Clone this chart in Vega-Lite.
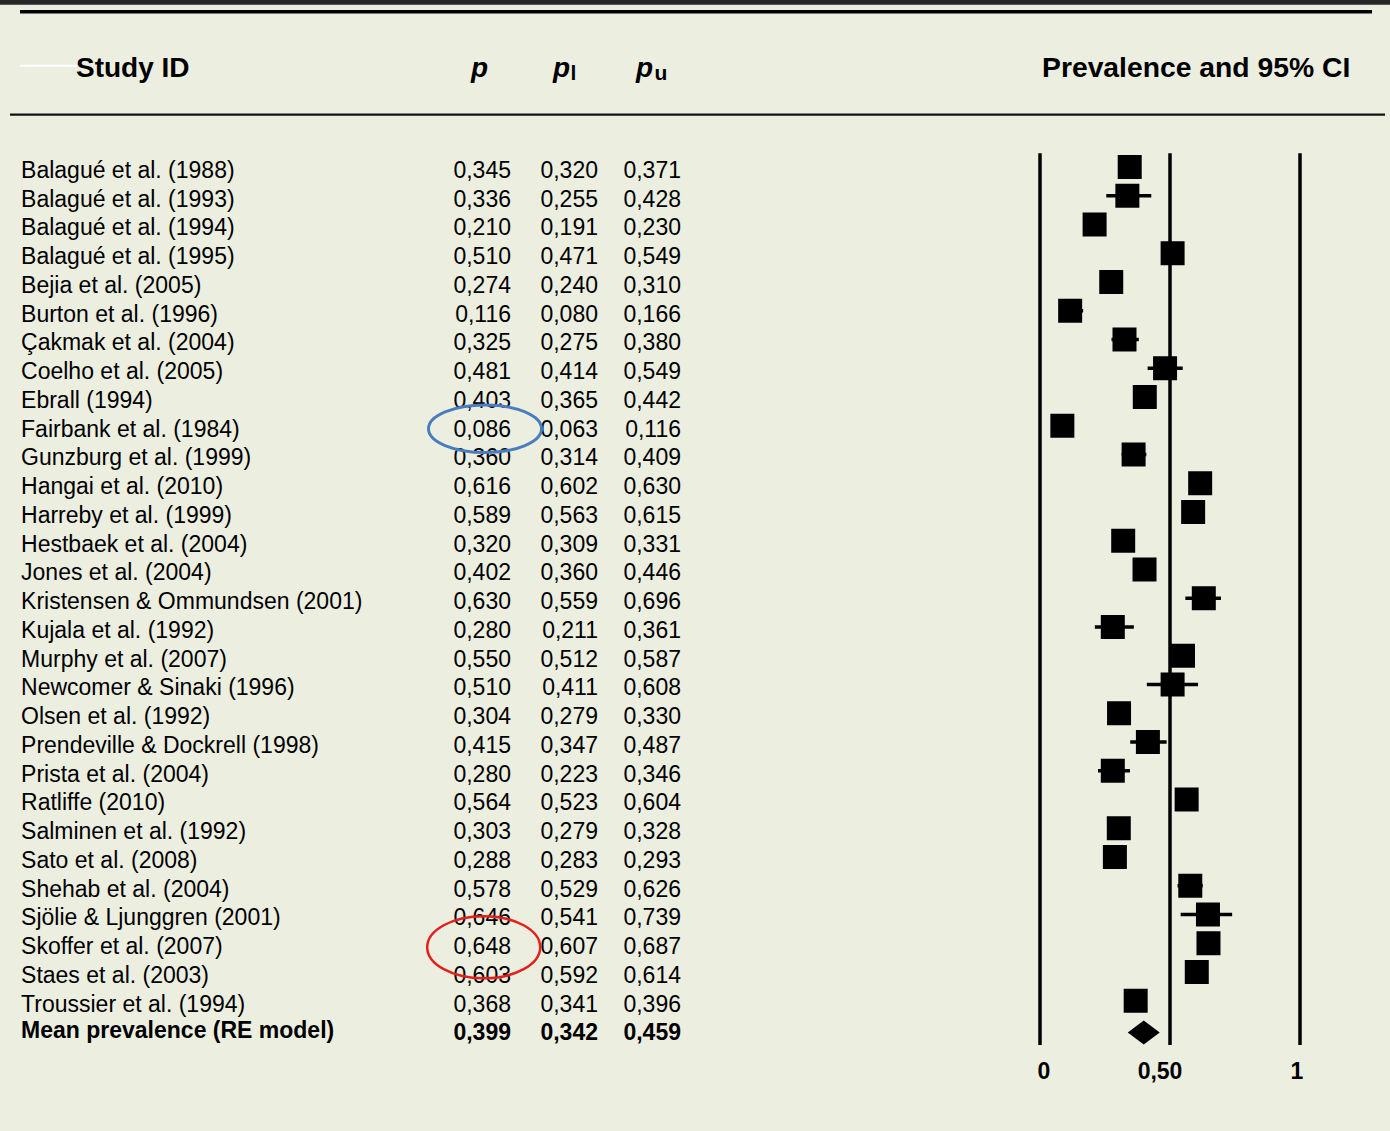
{
  "$schema": "https://vega.github.io/schema/vega-lite/v6.json",
  "width": 1390,
  "height": 1131,
  "padding": 0,
  "autosize": {"type": "fit", "contains": "padding"},
  "background": "#ECEFE0",
  "config": {
    "view": {"stroke": null},
    "font": "Liberation Sans",
    "locale": {"number": {"decimal": ",", "thousands": ".", "grouping": [3], "currency": ["", " €"]}}
  },
  "datasets": {
    "studies": [
      {"study": "Balagué et al. (1988)", "kind": "study", "p": 0.345, "pl": 0.320, "pu": 0.371},
      {"study": "Balagué et al. (1993)", "kind": "study", "p": 0.336, "pl": 0.255, "pu": 0.428},
      {"study": "Balagué et al. (1994)", "kind": "study", "p": 0.210, "pl": 0.191, "pu": 0.230},
      {"study": "Balagué et al. (1995)", "kind": "study", "p": 0.510, "pl": 0.471, "pu": 0.549},
      {"study": "Bejia et al. (2005)", "kind": "study", "p": 0.274, "pl": 0.240, "pu": 0.310},
      {"study": "Burton et al. (1996)", "kind": "study", "p": 0.116, "pl": 0.080, "pu": 0.166},
      {"study": "Çakmak et al. (2004)", "kind": "study", "p": 0.325, "pl": 0.275, "pu": 0.380},
      {"study": "Coelho et al. (2005)", "kind": "study", "p": 0.481, "pl": 0.414, "pu": 0.549},
      {"study": "Ebrall (1994)", "kind": "study", "p": 0.403, "pl": 0.365, "pu": 0.442},
      {"study": "Fairbank et al. (1984)", "kind": "study", "p": 0.086, "pl": 0.063, "pu": 0.116},
      {"study": "Gunzburg et al. (1999)", "kind": "study", "p": 0.360, "pl": 0.314, "pu": 0.409},
      {"study": "Hangai et al. (2010)", "kind": "study", "p": 0.616, "pl": 0.602, "pu": 0.630},
      {"study": "Harreby et al. (1999)", "kind": "study", "p": 0.589, "pl": 0.563, "pu": 0.615},
      {"study": "Hestbaek et al. (2004)", "kind": "study", "p": 0.320, "pl": 0.309, "pu": 0.331},
      {"study": "Jones et al. (2004)", "kind": "study", "p": 0.402, "pl": 0.360, "pu": 0.446},
      {"study": "Kristensen & Ommundsen (2001)", "kind": "study", "p": 0.630, "pl": 0.559, "pu": 0.696},
      {"study": "Kujala et al. (1992)", "kind": "study", "p": 0.280, "pl": 0.211, "pu": 0.361},
      {"study": "Murphy et al. (2007)", "kind": "study", "p": 0.550, "pl": 0.512, "pu": 0.587},
      {"study": "Newcomer & Sinaki (1996)", "kind": "study", "p": 0.510, "pl": 0.411, "pu": 0.608},
      {"study": "Olsen et al. (1992)", "kind": "study", "p": 0.304, "pl": 0.279, "pu": 0.330},
      {"study": "Prendeville & Dockrell (1998)", "kind": "study", "p": 0.415, "pl": 0.347, "pu": 0.487},
      {"study": "Prista et al. (2004)", "kind": "study", "p": 0.280, "pl": 0.223, "pu": 0.346},
      {"study": "Ratliffe (2010)", "kind": "study", "p": 0.564, "pl": 0.523, "pu": 0.604},
      {"study": "Salminen et al. (1992)", "kind": "study", "p": 0.303, "pl": 0.279, "pu": 0.328},
      {"study": "Sato et al. (2008)", "kind": "study", "p": 0.288, "pl": 0.283, "pu": 0.293},
      {"study": "Shehab et al. (2004)", "kind": "study", "p": 0.578, "pl": 0.529, "pu": 0.626},
      {"study": "Sjölie & Ljunggren (2001)", "kind": "study", "p": 0.646, "pl": 0.541, "pu": 0.739},
      {"study": "Skoffer et al. (2007)", "kind": "study", "p": 0.648, "pl": 0.607, "pu": 0.687},
      {"study": "Staes et al. (2003)", "kind": "study", "p": 0.603, "pl": 0.592, "pu": 0.614},
      {"study": "Troussier et al. (1994)", "kind": "study", "p": 0.368, "pl": 0.341, "pu": 0.396},
      {"study": "Mean prevalence (RE model)", "kind": "pooled", "p": 0.399, "pl": 0.342, "pu": 0.459}
    ],
    "ticks": [
      {"tick": 0, "label": "0"},
      {"tick": 0.5, "label": "0,50"},
      {"tick": 1, "label": "1"}
    ],
    "blank": [{}]
  },
  "layer": [
    {
      "data": {"name": "blank"},
      "mark": {"type": "rect", "color": "#262626"},
      "encoding": {
        "x": {"datum": -4, "type": "quantitative", "scale": {"domain": [-4, 1.34615], "nice": false, "zero": false}, "axis": null},
        "x2": {"datum": 1.34615},
        "y": {"datum": -5.191, "type": "quantitative", "scale": {"domain": [-5.191, 34.148], "nice": false, "zero": false, "reverse": true}, "axis": null},
        "y2": {"datum": -5.028}
      }
    },
    {
      "data": {"name": "blank"},
      "mark": {"type": "rule", "color": "#000000", "strokeWidth": 3.5},
      "encoding": {
        "x": {"datum": -3.923, "type": "quantitative"},
        "x2": {"datum": 1.277},
        "y": {"datum": -4.784, "type": "quantitative"}
      }
    },
    {
      "data": {"name": "blank"},
      "mark": {"type": "rule", "color": "#111111", "strokeWidth": 2.2},
      "encoding": {
        "x": {"datum": -3.9615, "type": "quantitative"},
        "x2": {"datum": 1.327},
        "y": {"datum": -1.202, "type": "quantitative"}
      }
    },
    {
      "data": {"name": "blank"},
      "mark": {"type": "rule", "color": "#FFFFFF", "strokeWidth": 2},
      "encoding": {
        "x": {"datum": -3.923, "type": "quantitative"},
        "x2": {"datum": -3.7038},
        "y": {"datum": -2.906, "type": "quantitative"}
      }
    },
    {
      "data": {"name": "blank"},
      "mark": {"type": "text", "align": "left", "baseline": "alphabetic", "fontSize": 28, "fontWeight": "bold", "color": "#000000"},
      "encoding": {
        "x": {"datum": -3.7077, "type": "quantitative"},
        "y": {"datum": -2.513, "type": "quantitative"},
        "text": {"value": "Study ID"}
      }
    },
    {
      "data": {"name": "blank"},
      "mark": {"type": "text", "align": "left", "baseline": "alphabetic", "fontSize": 28, "fontWeight": "bold", "fontStyle": "italic", "color": "#000000"},
      "encoding": {
        "x": {"datum": -2.1885, "type": "quantitative"},
        "y": {"datum": -2.513, "type": "quantitative"},
        "text": {"value": "p"}
      }
    },
    {
      "data": {"name": "blank"},
      "mark": {"type": "text", "align": "left", "baseline": "alphabetic", "fontSize": 28, "fontWeight": "bold", "fontStyle": "italic", "color": "#000000"},
      "encoding": {
        "x": {"datum": -1.873, "type": "quantitative"},
        "y": {"datum": -2.513, "type": "quantitative"},
        "text": {"value": "p"}
      }
    },
    {
      "data": {"name": "blank"},
      "mark": {"type": "text", "align": "left", "baseline": "alphabetic", "fontSize": 28, "fontWeight": "bold", "fontStyle": "italic", "color": "#000000"},
      "encoding": {
        "x": {"datum": -1.5538, "type": "quantitative"},
        "y": {"datum": -2.513, "type": "quantitative"},
        "text": {"value": "p"}
      }
    },
    {
      "data": {"name": "blank"},
      "mark": {"type": "text", "align": "left", "baseline": "alphabetic", "fontSize": 21, "fontWeight": "bold", "color": "#000000"},
      "encoding": {
        "x": {"datum": -1.8058, "type": "quantitative"},
        "y": {"datum": -2.409, "type": "quantitative"},
        "text": {"value": "l"}
      }
    },
    {
      "data": {"name": "blank"},
      "mark": {"type": "text", "align": "left", "baseline": "alphabetic", "fontSize": 21, "fontWeight": "bold", "color": "#000000"},
      "encoding": {
        "x": {"datum": -1.4828, "type": "quantitative"},
        "y": {"datum": -2.409, "type": "quantitative"},
        "text": {"value": "u"}
      }
    },
    {
      "data": {"name": "blank"},
      "mark": {"type": "text", "align": "left", "baseline": "alphabetic", "fontSize": 28.3, "fontWeight": "bold", "color": "#000000"},
      "encoding": {
        "x": {"datum": 0.0077, "type": "quantitative"},
        "y": {"datum": -2.513, "type": "quantitative"},
        "text": {"value": "Prevalence and 95% CI"}
      }
    },
    {
      "data": {"name": "studies"},
      "transform": [{"window": [{"op": "row_number", "as": "row"}]}, {"filter": "datum.kind === 'study'"}],
      "mark": {"type": "text", "align": "left", "baseline": "alphabetic", "fontSize": 23, "color": "#000000"},
      "encoding": {
        "x": {"datum": -3.919, "type": "quantitative"},
        "y": {"field": "row", "type": "quantitative"},
        "text": {"field": "study"}
      }
    },
    {
      "data": {"name": "studies"},
      "transform": [{"window": [{"op": "row_number", "as": "row"}]}, {"filter": "datum.kind === 'pooled'"}],
      "mark": {"type": "text", "align": "left", "baseline": "alphabetic", "fontSize": 23, "fontWeight": "bold", "color": "#000000", "yOffset": -2.5},
      "encoding": {
        "x": {"datum": -3.919, "type": "quantitative"},
        "y": {"field": "row", "type": "quantitative"},
        "text": {"field": "study"}
      }
    },
    {
      "data": {"name": "studies"},
      "transform": [{"window": [{"op": "row_number", "as": "row"}]}, {"filter": "datum.kind === 'study'"}],
      "mark": {"type": "text", "align": "right", "baseline": "alphabetic", "fontSize": 23, "color": "#000000"},
      "encoding": {
        "x": {"datum": -2.0346, "type": "quantitative"},
        "y": {"field": "row", "type": "quantitative"},
        "text": {"field": "p", "type": "quantitative", "format": ".3f"}
      }
    },
    {
      "data": {"name": "studies"},
      "transform": [{"window": [{"op": "row_number", "as": "row"}]}, {"filter": "datum.kind === 'study'"}],
      "mark": {"type": "text", "align": "right", "baseline": "alphabetic", "fontSize": 23, "color": "#000000"},
      "encoding": {
        "x": {"datum": -1.7, "type": "quantitative"},
        "y": {"field": "row", "type": "quantitative"},
        "text": {"field": "pl", "type": "quantitative", "format": ".3f"}
      }
    },
    {
      "data": {"name": "studies"},
      "transform": [{"window": [{"op": "row_number", "as": "row"}]}, {"filter": "datum.kind === 'study'"}],
      "mark": {"type": "text", "align": "right", "baseline": "alphabetic", "fontSize": 23, "color": "#000000"},
      "encoding": {
        "x": {"datum": -1.3808, "type": "quantitative"},
        "y": {"field": "row", "type": "quantitative"},
        "text": {"field": "pu", "type": "quantitative", "format": ".3f"}
      }
    },
    {
      "data": {"name": "studies"},
      "transform": [{"window": [{"op": "row_number", "as": "row"}]}, {"filter": "datum.kind === 'pooled'"}],
      "mark": {"type": "text", "align": "right", "baseline": "alphabetic", "fontSize": 23, "fontWeight": "bold", "color": "#000000"},
      "encoding": {
        "x": {"datum": -2.0346, "type": "quantitative"},
        "y": {"field": "row", "type": "quantitative"},
        "text": {"field": "p", "type": "quantitative", "format": ".3f"}
      }
    },
    {
      "data": {"name": "studies"},
      "transform": [{"window": [{"op": "row_number", "as": "row"}]}, {"filter": "datum.kind === 'pooled'"}],
      "mark": {"type": "text", "align": "right", "baseline": "alphabetic", "fontSize": 23, "fontWeight": "bold", "color": "#000000"},
      "encoding": {
        "x": {"datum": -1.7, "type": "quantitative"},
        "y": {"field": "row", "type": "quantitative"},
        "text": {"field": "pl", "type": "quantitative", "format": ".3f"}
      }
    },
    {
      "data": {"name": "studies"},
      "transform": [{"window": [{"op": "row_number", "as": "row"}]}, {"filter": "datum.kind === 'pooled'"}],
      "mark": {"type": "text", "align": "right", "baseline": "alphabetic", "fontSize": 23, "fontWeight": "bold", "color": "#000000"},
      "encoding": {
        "x": {"datum": -1.3808, "type": "quantitative"},
        "y": {"field": "row", "type": "quantitative"},
        "text": {"field": "pu", "type": "quantitative", "format": ".3f"}
      }
    },
    {
      "data": {"name": "ticks"},
      "mark": {"type": "rule", "color": "#000000", "strokeWidth": 3.5},
      "encoding": {
        "x": {"field": "tick", "type": "quantitative"},
        "y": {"datum": 0.141, "type": "quantitative"},
        "y2": {"datum": 31.157}
      }
    },
    {
      "data": {"name": "ticks"},
      "transform": [{"filter": "datum.tick === 0"}],
      "mark": {"type": "text", "align": "center", "baseline": "alphabetic", "fontSize": 23, "fontWeight": "bold", "color": "#000000", "dx": 4},
      "encoding": {
        "x": {"field": "tick", "type": "quantitative"},
        "y": {"datum": 32.339, "type": "quantitative"},
        "text": {"field": "label"}
      }
    },
    {
      "data": {"name": "ticks"},
      "transform": [{"filter": "datum.tick === 0.5"}],
      "mark": {"type": "text", "align": "center", "baseline": "alphabetic", "fontSize": 23, "fontWeight": "bold", "color": "#000000", "dx": -10},
      "encoding": {
        "x": {"field": "tick", "type": "quantitative"},
        "y": {"datum": 32.339, "type": "quantitative"},
        "text": {"field": "label"}
      }
    },
    {
      "data": {"name": "ticks"},
      "transform": [{"filter": "datum.tick === 1"}],
      "mark": {"type": "text", "align": "center", "baseline": "alphabetic", "fontSize": 23, "fontWeight": "bold", "color": "#000000", "dx": -3},
      "encoding": {
        "x": {"field": "tick", "type": "quantitative"},
        "y": {"datum": 32.339, "type": "quantitative"},
        "text": {"field": "label"}
      }
    },
    {
      "data": {"name": "studies"},
      "transform": [{"window": [{"op": "row_number", "as": "row"}]}, {"filter": "datum.kind === 'study'"}],
      "mark": {"type": "rule", "color": "#000000", "strokeWidth": 3.5, "yOffset": -11},
      "encoding": {
        "x": {"field": "pl", "type": "quantitative"},
        "x2": {"field": "pu"},
        "y": {"field": "row", "type": "quantitative"}
      }
    },
    {
      "data": {"name": "studies"},
      "transform": [{"window": [{"op": "row_number", "as": "row"}]}, {"filter": "datum.kind === 'study'"}],
      "mark": {"type": "point", "shape": "square", "size": 576, "filled": true, "opacity": 1, "color": "#000000", "yOffset": -11},
      "encoding": {
        "x": {"field": "p", "type": "quantitative"},
        "y": {"field": "row", "type": "quantitative"}
      }
    },
    {
      "data": {"name": "studies"},
      "transform": [{"window": [{"op": "row_number", "as": "row"}]}, {"filter": "datum.kind === 'pooled'"}],
      "mark": {"type": "point", "shape": "M -1 0 L 0 -0.75 L 1 0 L 0 0.75 Z", "size": 1024, "filled": true, "opacity": 1, "color": "#000000", "yOffset": -8},
      "encoding": {
        "x": {"field": "p", "type": "quantitative"},
        "y": {"field": "row", "type": "quantitative"}
      }
    },
    {
      "data": {"name": "studies"},
      "transform": [{"window": [{"op": "row_number", "as": "row"}]}, {"filter": "datum.study === 'Fairbank et al. (1984)'"}],
      "mark": {"type": "point", "shape": "M -1 0 C -1 -0.2325 -0.5523 -0.421 0 -0.421 C 0.5523 -0.421 1 -0.2325 1 0 C 1 0.2325 0.5523 0.421 0 0.421 C -0.5523 0.421 -1 0.2325 -1 0 Z", "size": 12769, "filled": false, "opacity": 1, "stroke": "#4A7DBF", "strokeWidth": 3, "yOffset": -8},
      "encoding": {
        "x": {"datum": -2.1346, "type": "quantitative"},
        "y": {"field": "row", "type": "quantitative"}
      }
    },
    {
      "data": {"name": "studies"},
      "transform": [{"window": [{"op": "row_number", "as": "row"}]}, {"filter": "datum.study === 'Skoffer et al. (2007)'"}],
      "mark": {"type": "point", "shape": "M -1 0 C -1 -0.3038 -0.5523 -0.55 0 -0.55 C 0.5523 -0.55 1 -0.3038 1 0 C 1 0.3038 0.5523 0.55 0 0.55 C -0.5523 0.55 -1 0.3038 -1 0 Z", "size": 12769, "filled": false, "opacity": 1, "stroke": "#E3201B", "strokeWidth": 2.5, "yOffset": -7},
      "encoding": {
        "x": {"datum": -2.1396, "type": "quantitative"},
        "y": {"field": "row", "type": "quantitative"}
      }
    }
  ]
}
